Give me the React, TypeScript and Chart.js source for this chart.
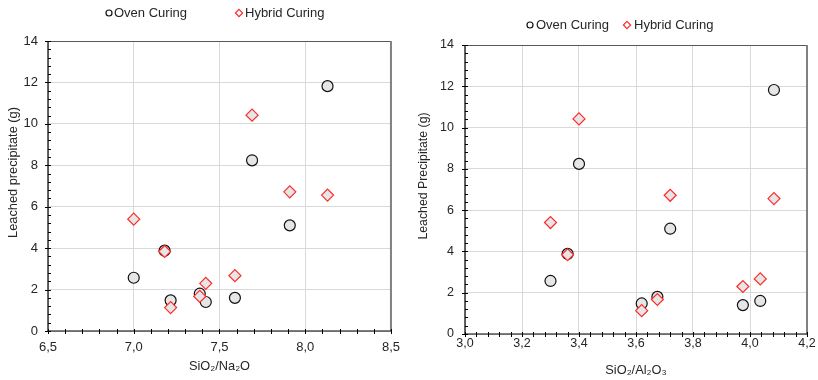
import { useEffect, useRef } from 'react';
import { Chart, registerables } from 'chart.js';

Chart.register(...registerables);

// ---------- data ----------
const seriesNames = ['Oven Curing', 'Hybrid Curing'];
const sio2Na2O = [7.0, 7.18, 7.215, 7.385, 7.42, 7.59, 7.69, 7.91, 8.13];
const sio2Al2O3 = [3.3, 3.36, 3.62, 3.675, 3.975, 4.036, 3.4, 3.72, 4.084];
const ovenLeached = [2.57, 3.88, 1.48, 1.8, 1.4, 1.6, 8.24, 5.1, 11.82];
const hybridLeached = [5.4, 3.84, 1.13, 1.67, 2.3, 2.67, 10.42, 6.72, 6.56];

const leftXRange = { min: 6.5, max: 8.5, major: 0.5, minor: 0.1 };
const rightXRange = { min: 3.0, max: 4.2, major: 0.2, minor: 0.04 };
const yRange = { min: 0, max: 14, major: 2, minor: 0.4 };

const leftXTitle = 'SiO₂/Na₂O';
const rightXTitle = 'SiO₂/Al₂O₃';
const leftYTitle = 'Leached precipitate (g)';
const rightYTitle = 'Leached Precipitate (g)';

const FONT = 'Arial, "Liberation Sans", sans-serif';
const TEXT = '#262626';

const framePlugin = {
  id: 'frame',
  afterDatasetsDraw(chart: any, _a: any, opts: any) {
    const { ctx, chartArea } = chart;
    const { left, right, top, bottom } = chartArea;
    const x = chart.scales.x;
    const y = chart.scales.y;
    ctx.save();
    ctx.strokeStyle = '#595959';
    ctx.lineWidth = 1;
    ctx.beginPath();
    ctx.moveTo(left, top + 0.5);
    ctx.lineTo(right, top + 0.5);
    ctx.stroke();
    ctx.strokeStyle = '#808080';
    ctx.lineWidth = 2;
    ctx.beginPath();
    ctx.moveTo(right, top);
    ctx.lineTo(right, bottom);
    ctx.stroke();
    ctx.strokeStyle = '#000';
    ctx.lineWidth = 1.2;
    ctx.beginPath();
    ctx.moveTo(left, top);
    ctx.lineTo(left, bottom);
    ctx.lineTo(right, bottom);
    ctx.stroke();
    ctx.lineWidth = 1;
    ctx.beginPath();
    const nx = Math.round((opts.xMax - opts.xMin) / opts.xMinor);
    for (let i = 0; i <= nx; i++) {
      const px = Math.round(x.getPixelForValue(opts.xMin + i * opts.xMinor)) + 0.5;
      ctx.moveTo(px, bottom - 2);
      ctx.lineTo(px, bottom + 3);
    }
    const ny = Math.round((opts.yMax - opts.yMin) / opts.yMinor);
    const per = Math.round(opts.yMajor / opts.yMinor);
    for (let i = 0; i <= ny; i++) {
      const py = Math.round(y.getPixelForValue(opts.yMin + i * opts.yMinor)) + 0.5;
      const major = i % per === 0;
      ctx.moveTo(left - (major ? 3 : 0), py);
      ctx.lineTo(left + 3, py);
    }
    ctx.stroke();
    ctx.restore();
  },
};

const legendPlugin = {
  id: 'sideLegend',
  afterDraw(chart: any, _a: any, opts: any) {
    const { ctx } = chart;
    ctx.save();
    ctx.font = `${opts.fontSize}px ${FONT}`;
    ctx.textBaseline = 'middle';
    ctx.textAlign = 'left';
    opts.items.forEach((it: any, i: number) => {
      const ds = chart.data.datasets[i];
      ctx.lineWidth = 1.2;
      ctx.fillStyle = '#fff';
      ctx.strokeStyle = ds.borderColor;
      ctx.beginPath();
      if (ds.pointStyle === 'circle') {
        ctx.arc(it.markerX, opts.y, 3, 0, Math.PI * 2);
      } else {
        const r = 3.6;
        ctx.moveTo(it.markerX, opts.y - r);
        ctx.lineTo(it.markerX + r, opts.y);
        ctx.lineTo(it.markerX, opts.y + r);
        ctx.lineTo(it.markerX - r, opts.y);
        ctx.closePath();
      }
      ctx.fill();
      ctx.stroke();
      ctx.fillStyle = TEXT;
      ctx.fillText(ds.label, it.textX, opts.y + 0.5);
    });
    // rotated y-axis title
    const yt = opts.yTitle;
    ctx.translate(yt.x, yt.y);
    ctx.rotate(-Math.PI / 2);
    ctx.font = `${yt.size}px ${FONT}`;
    ctx.textAlign = 'center';
    ctx.textBaseline = 'middle';
    ctx.fillStyle = TEXT;
    ctx.fillText(yt.text, 0, 0);
    ctx.restore();
  },
};

type Panel = {
  xs: number[];
  xr: { min: number; max: number; major: number; minor: number };
  xTitle: string;
  yTitle: string;
  pad: { top: number; right: number };
  yWidth: number;
  xHeight: number;
  yTickPad: number;
  xTickPad: number;
  yTickSize: number;
  xTickSize: number;
  xTitleSize: number;
  xTitlePad: number;
  yTitleX: number;
  yTitleY: number;
  yTitleSize: number;
  legendY: number;
  legendItems: { markerX: number; textX: number }[];
};

const leftPanel: Panel = {
  xs: sio2Na2O,
  xr: leftXRange,
  xTitle: leftXTitle,
  yTitle: leftYTitle,
  pad: { top: 41, right: 18 },
  yWidth: 48,
  xHeight: 49,
  yTickPad: 10,
  xTickPad: 9,
  yTickSize: 13,
  xTickSize: 13,
  xTitleSize: 12.8,
  xTitlePad: 6,
  yTitleX: 13,
  yTitleY: 172.5,
  yTitleSize: 12.8,
  legendY: 13,
  legendItems: [
    { markerX: 109, textX: 114 },
    { markerX: 239, textX: 245 },
  ],
};

const rightPanel: Panel = {
  xs: sio2Al2O3,
  xr: rightXRange,
  xTitle: rightXTitle,
  yTitle: rightYTitle,
  pad: { top: 45, right: 11 },
  yWidth: 56,
  xHeight: 46,
  yTickPad: 11,
  xTickPad: 2,
  yTickSize: 12.5,
  xTickSize: 12.5,
  xTitleSize: 12.8,
  xTitlePad: 2,
  yTitleX: 15,
  yTitleY: 176,
  yTitleSize: 12.3,
  legendY: 25,
  legendItems: [
    { markerX: 121, textX: 127 },
    { markerX: 218, textX: 225 },
  ],
};

function ScatterPanel({ panel }: { panel: Panel }) {
  const ref = useRef<HTMLCanvasElement>(null);
  useEffect(() => {
    if (!ref.current) return;
    const chart = new Chart(ref.current, {
      type: 'scatter',
      data: {
        datasets: [
          {
            label: seriesNames[0],
            data: panel.xs.map((x, i) => ({ x, y: ovenLeached[i] })),
            pointStyle: 'circle',
            pointRadius: 5.5,
            pointHoverRadius: 5.5,
            borderWidth: 1.2,
            borderColor: '#111',
            backgroundColor: '#e6e6e6',
            order: 1,
          },
          {
            label: seriesNames[1],
            data: panel.xs.map((x, i) => ({ x, y: hybridLeached[i] })),
            pointStyle: 'rectRot',
            pointRadius: 6,
            pointHoverRadius: 6,
            borderWidth: 1.2,
            borderColor: '#ff2a2a',
            backgroundColor: '#e6e6e6',
            order: 0,
          },
        ],
      },
      options: {
        animation: false,
        responsive: false,
        layout: { padding: { top: panel.pad.top, right: panel.pad.right, left: 0, bottom: 0 } },
        scales: {
          x: {
            type: 'linear',
            min: panel.xr.min,
            max: panel.xr.max,
            afterFit: (s: any) => {
              s.height = panel.xHeight;
            },
            ticks: {
              stepSize: panel.xr.major,
              padding: panel.xTickPad,
              color: TEXT,
              font: { family: FONT, size: panel.xTickSize },
              callback: (v: any) => Number(v).toFixed(1).replace('.', ','),
            },
            grid: { color: '#d9d9d9', lineWidth: 1, drawTicks: false },
            border: { display: false },
            title: {
              display: true,
              text: panel.xTitle,
              color: TEXT,
              font: { family: FONT, size: panel.xTitleSize },
              padding: { top: 0, bottom: panel.xTitlePad },
            },
          },
          y: {
            type: 'linear',
            min: yRange.min,
            max: yRange.max,
            afterFit: (s: any) => {
              s.width = panel.yWidth;
            },
            ticks: {
              stepSize: yRange.major,
              padding: panel.yTickPad,
              color: TEXT,
              font: { family: FONT, size: panel.yTickSize },
            },
            grid: { color: '#d9d9d9', lineWidth: 1, drawTicks: false },
            border: { display: false },
            title: { display: false },
          },
        },
        plugins: {
          legend: { display: false },
          tooltip: { enabled: false },
          frame: {
            xMin: panel.xr.min,
            xMax: panel.xr.max,
            xMinor: panel.xr.minor,
            yMin: yRange.min,
            yMax: yRange.max,
            yMinor: yRange.minor,
            yMajor: yRange.major,
          },
          sideLegend: {
            y: panel.legendY,
            fontSize: 13,
            items: panel.legendItems,
            yTitle: { text: panel.yTitle, x: panel.yTitleX, y: panel.yTitleY, size: panel.yTitleSize },
          },
        } as any,
      },
      plugins: [framePlugin, legendPlugin],
    });
    return () => chart.destroy();
  }, [panel]);
  return <canvas ref={ref} width={409} height={380} style={{ display: 'block', width: 409, height: 380 }} />;
}

export default function App() {
  return (
    <div style={{ position: 'absolute', left: 0, top: 0, width: 818, height: 380, display: 'flex', background: '#fff' }}>
      <ScatterPanel panel={leftPanel} />
      <ScatterPanel panel={rightPanel} />
    </div>
  );
}
